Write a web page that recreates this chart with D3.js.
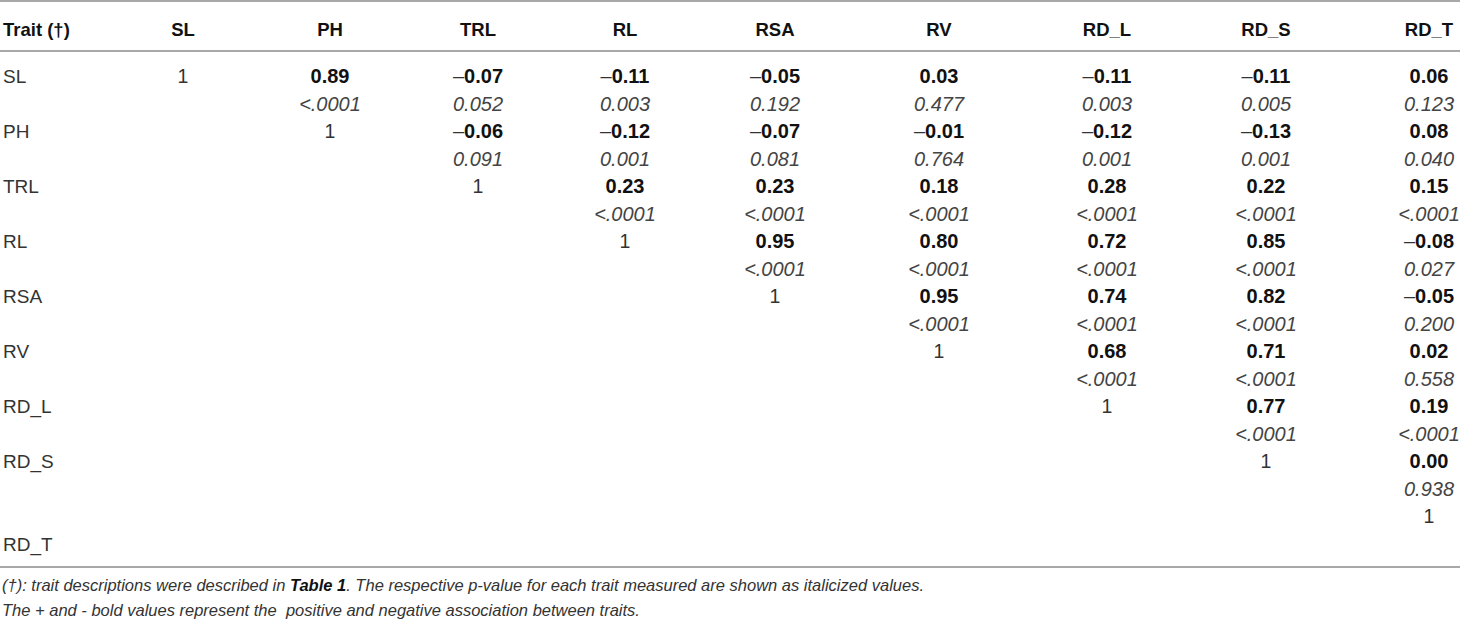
<!DOCTYPE html>
<html>
  <head>
    <meta charset="utf-8">
    <title>Trait correlation table</title>
    <style>
      body { margin: 0; background: #fff; }
      svg text { font-family: "Liberation Sans", Arial, Helvetica, sans-serif; }
      .head { font-size: 18.5px; font-weight: bold; fill: #111; text-anchor: middle; }
      .head.first { text-anchor: start; }
      .label { font-size: 19px; fill: #333; }
      .one { font-size: 19.5px; fill: #333; text-anchor: middle; }
      .r { font-size: 20px; font-weight: bold; fill: #111; text-anchor: middle; }
      .r .sign { font-weight: normal; fill: #333; }
      .p { font-size: 20px; font-style: italic; fill: #444; text-anchor: middle; }
      .rule { stroke: #a8a8a8; stroke-width: 2; }
      .note { font-size: 16.5px; font-style: italic; fill: #333; white-space: pre; }
    </style>
  </head>
  <body>
    <script src="https://d3js.org/d3.v7.min.js"></script>
    <script>
      const width = 1460;
      const height = 624;

      const traits = ["SL", "PH", "TRL", "RL", "RSA", "RV", "RD_L", "RD_S", "RD_T"];

      // correlation coefficients, upper triangle (row i, columns i+1..)
      const rSL   = [0.89, -0.07, -0.11, -0.05, 0.03, -0.11, -0.11, 0.06];
      const rPH   = [-0.06, -0.12, -0.07, -0.01, -0.12, -0.13, 0.08];
      const rTRL  = [0.23, 0.23, 0.18, 0.28, 0.22, 0.15];
      const rRL   = [0.95, 0.80, 0.72, 0.85, -0.08];
      const rRSA  = [0.95, 0.74, 0.82, -0.05];
      const rRV   = [0.68, 0.71, 0.02];
      const rRDL  = [0.77, 0.19];
      const rRDS  = [0.00];

      // p-values, same layout
      const pSL   = ["<.0001", "0.052", "0.003", "0.192", "0.477", "0.003", "0.005", "0.123"];
      const pPH   = ["0.091", "0.001", "0.081", "0.764", "0.001", "0.001", "0.040"];
      const pTRL  = ["<.0001", "<.0001", "<.0001", "<.0001", "<.0001", "<.0001"];
      const pRL   = ["<.0001", "<.0001", "<.0001", "<.0001", "0.027"];
      const pRSA  = ["<.0001", "<.0001", "<.0001", "0.200"];
      const pRV   = ["<.0001", "<.0001", "0.558"];
      const pRDL  = ["<.0001", "<.0001"];
      const pRDS  = ["0.938"];

      const rRows = [rSL, rPH, rTRL, rRL, rRSA, rRV, rRDL, rRDS, []];
      const pRows = [pSL, pPH, pTRL, pRL, pRSA, pRV, pRDL, pRDS, []];

      const noteLines = [
        ["(†): trait descriptions were described in ", "Table 1", ". The respective p-value for each trait measured are shown as italicized values."],
        ["The + and - bold values represent the  positive and negative association between traits."]
      ];

      // column centres are uneven in the source table
      const x = d3.scaleOrdinal()
        .domain(traits)
        .range([183, 330, 478, 625, 775, 939, 1107, 1266, 1429]);

      // text lines of the body: two per trait (value line + p line)
      const y = d3.scaleLinear().domain([0, 17]).range([83, 550.5]);

      const svg = d3.select("body")
        .append("svg")
        .attr("width", width)
        .attr("height", height);

      // rules
      svg.selectAll(".rule")
        .data([1, 51, 567])
        .enter()
        .append("line")
        .attr("class", "rule")
        .attr("x1", 0)
        .attr("x2", width)
        .attr("y1", d => d)
        .attr("y2", d => d);

      // header
      svg.append("text")
        .attr("class", "head first")
        .attr("x", 3)
        .attr("y", 36)
        .text("Trait (†)");

      svg.selectAll(".head.col")
        .data(traits)
        .enter()
        .append("text")
        .attr("class", "head col")
        .attr("x", d => x(d))
        .attr("y", 36)
        .text(d => d);

      // row labels (the last label sits one line lower, as in the source)
      svg.selectAll(".label")
        .data(traits)
        .enter()
        .append("text")
        .attr("class", "label")
        .attr("x", 3)
        .attr("y", (d, i) => y(i === traits.length - 1 ? 2 * i + 1 : 2 * i))
        .text(d => d);

      // diagonal
      svg.selectAll(".one")
        .data(traits)
        .enter()
        .append("text")
        .attr("class", "one")
        .attr("x", d => x(d))
        .attr("y", (d, i) => y(2 * i))
        .text("1");

      // correlation cells
      const cells = [];
      rRows.forEach((row, i) => {
        row.forEach((v, k) => {
          const j = i + 1 + k;
          cells.push({ i, j, r: v, p: pRows[i][k] });
        });
      });

      const rText = svg.selectAll(".r")
        .data(cells)
        .enter()
        .append("text")
        .attr("class", "r")
        .attr("x", d => x(traits[d.j]))
        .attr("y", d => y(2 * d.i));

      rText.filter(d => d.r < 0)
        .append("tspan")
        .attr("class", "sign")
        .text("\u2013");

      rText.append("tspan")
        .text(d => Math.abs(d.r).toFixed(2));

      svg.selectAll(".p")
        .data(cells)
        .enter()
        .append("text")
        .attr("class", "p")
        .attr("x", d => x(traits[d.j]))
        .attr("y", d => y(2 * d.i + 1))
        .text(d => d.p);

      // footnotes
      const notes = svg.selectAll(".note")
        .data(noteLines)
        .enter()
        .append("text")
        .attr("class", "note")
        .attr("x", 2)
        .attr("y", (d, i) => 591 + i * 25);

      notes.selectAll("tspan")
        .data(d => d)
        .enter()
        .append("tspan")
        .style("font-weight", d => d === "Table 1" ? "bold" : null)
        .attr("fill", d => d === "Table 1" ? "#111" : null)
        .text(d => d);
    </script>
  </body>
</html>
